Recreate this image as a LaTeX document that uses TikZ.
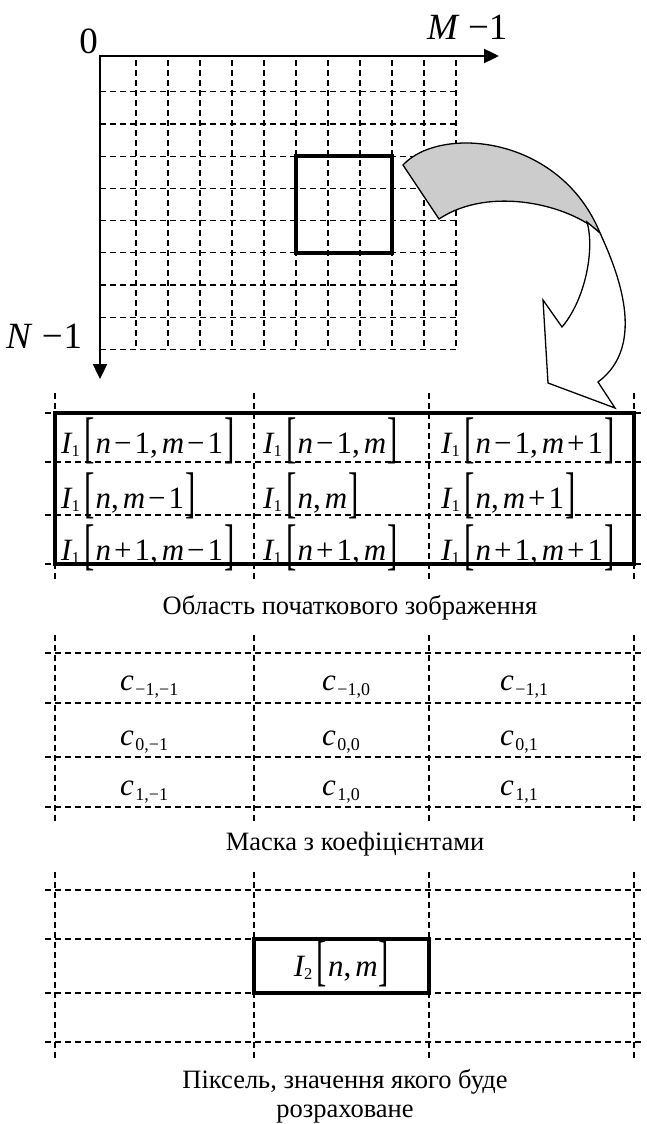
\documentclass[tikz,border=0pt]{standalone}
\usepackage{graphicx}
\usepackage{fontspec}
\setmainfont{Liberation Serif}
\usetikzlibrary{arrows.meta}
% text-mode formula helpers (Times-like look)
\newcommand\Sb[1]{\raisebox{-0.12em}{\fontsize{16.5}{16.5}\selectfont #1}}
\newcommand\vI[1]{{\itshape I}\Sb{#1}\kern4.5pt}
\newcommand\lb{\raisebox{-3pt}{\scalebox{1}[1.8]{[}}\kern1pt}
\newcommand\rb{\kern1pt\raisebox{-3pt}{\scalebox{1}[1.8]{]}}}
\newcommand\mn{\kern3pt−\kern3pt}
\newcommand\pl{\kern3pt+\kern3pt}
\newcommand\vn{{\itshape n}}
\newcommand\vm{{\itshape m}}
\newcommand\cm{,\kern4pt}
\newcommand\vc[1]{{\itshape c}\kern1.5pt\raisebox{-0.18em}{\fontsize{18}{18}\selectfont #1}}
\tikzset{
  dgrid/.style={line width=1.2pt, dash pattern=on 6pt off 4pt},
  boldbox/.style={line width=3.6pt},
  axisline/.style={line width=2.4pt, -{Triangle[length=15pt,width=14pt]}},
  mathlab/.style={inner sep=0pt, font=\fontsize{31}{36}\selectfont},
  biglab/.style={inner sep=0pt, font=\fontsize{37}{42}\selectfont},
  caption/.style={inner sep=0pt, font=\fontsize{26.5}{30}\selectfont, align=center},
  ribbon/.style={line width=1.3pt, line join=miter},
}
\begin{document}
\begin{tikzpicture}[x=1pt,y=-1pt]
\useasboundingbox (0,0) rectangle (646,1124);
% ---------- top grid ----------
\foreach \k in {0,...,10} \draw[dgrid] ({136+32*\k},60) -- ({136+32*\k},349.3);
\foreach \j in {0,...,8} \draw[dgrid] (100,{91.7+32.2*\j}) -- (456,{91.7+32.2*\j});
\coordinate (origin) at (100,56);
\coordinate (corner) at (98.8,56);
\coordinate (xend) at (499,56);
\coordinate (yend) at (100,379);
\draw[axisline] (corner) -- (xend);
\draw[axisline] (origin) -- (yend);
\draw[boldbox] (296,156) rectangle (392,252.7);
\node[biglab, anchor=base east] (zero) at (98,53) {0};
\node[biglab, anchor=base west] (mlab) at (427,39.5) {{\itshape M}\kern10pt−\kern0pt1};
\node[biglab, anchor=base west] (nlab) at (6,348) {{\itshape N}\kern11pt−\kern1pt1};
% ---------- twisted arrow ----------
\filldraw[ribbon, fill=black!20] (403,165) .. controls (440,125) and (560,135) .. (600,233)
  .. controls (570,205) and (490,185) .. (439,219) -- cycle;
\filldraw[ribbon, fill=white] (600,233) .. controls (617,270) and (648,345) .. (598,382)
  -- (615,408) -- (548,383) -- (543,300) -- (562,327)
  .. controls (585,300) and (595,250) .. (587,222) -- cycle;
% ---------- table 1 ----------
\foreach \x in {55,254,429,634} \draw[dgrid] (\x,393) -- (\x,582);
\foreach \y in {413,462,515,564} \draw[dgrid] (45,\y) -- (643,\y);
\draw[boldbox] (55,413) rectangle (634,564);
\node[mathlab, anchor=base west] (a11) at (61,453) {\vI{1}\lb\vn\mn1\cm\vm\mn1\rb};
\node[mathlab, anchor=base west] (a12) at (263,453) {\vI{1}\lb\vn\mn1\cm\vm\rb};
\node[mathlab, anchor=base west] (a13) at (441,453) {\vI{1}\lb\vn\mn1\cm\vm\pl1\rb};
\node[mathlab, anchor=base west] (a21) at (61,508) {\vI{1}\lb\vn\cm\vm\mn1\rb};
\node[mathlab, anchor=base west] (a22) at (263,508) {\vI{1}\lb\vn\cm\vm\rb};
\node[mathlab, anchor=base west] (a23) at (441,508) {\vI{1}\lb\vn\cm\vm\pl1\rb};
\node[mathlab, anchor=base west] (a31) at (61,560) {\vI{1}\lb\vn\pl1\cm\vm\mn1\rb};
\node[mathlab, anchor=base west] (a32) at (263,560) {\vI{1}\lb\vn\pl1\cm\vm\rb};
\node[mathlab, anchor=base west] (a33) at (441,560) {\vI{1}\lb\vn\pl1\cm\vm\pl1\rb};
\node[caption, anchor=base] (cap1) at (350,614) {Область початкового зображення};
% ---------- table 2 ----------
\foreach \x in {55,254,429,634} \draw[dgrid] (\x,635) -- (\x,823);
\foreach \y in {653,703,757,807} \draw[dgrid] (45,\y) -- (643,\y);
\node[mathlab, anchor=base west] (c11) at (120,690) {\vc{−1,−1}};
\node[mathlab, anchor=base west] (c12) at (322,690) {\vc{−1,0}};
\node[mathlab, anchor=base west] (c13) at (500,690) {\vc{−1,1}};
\node[mathlab, anchor=base west] (c21) at (120,745) {\vc{0,−1}};
\node[mathlab, anchor=base west] (c22) at (322,745) {\vc{0,0}};
\node[mathlab, anchor=base west] (c23) at (500,745) {\vc{0,1}};
\node[mathlab, anchor=base west] (c31) at (120,795) {\vc{1,−1}};
\node[mathlab, anchor=base west] (c32) at (322,795) {\vc{1,0}};
\node[mathlab, anchor=base west] (c33) at (500,795) {\vc{1,1}};
\node[caption, anchor=base] (cap2) at (355,850) {Маска з коефіцієнтами};
% ---------- table 3 ----------
\foreach \x in {55,254,429,634} \draw[dgrid] (\x,872) -- (\x,1060);
\foreach \y in {890,939,993,1042} \draw[dgrid] (45,\y) -- (643,\y);
\draw[boldbox] (254,939) rectangle (429,993);
\node[mathlab, anchor=base] (res) at (341.5,976) {\vI{2}\lb\vn\cm\vm\rb};
\node[caption, anchor=base] (cap3a) at (345,1088) {Піксель, значення якого буде};
\node[caption, anchor=base] (cap3b) at (345,1117) {розраховане};
\end{tikzpicture}
\end{document}
